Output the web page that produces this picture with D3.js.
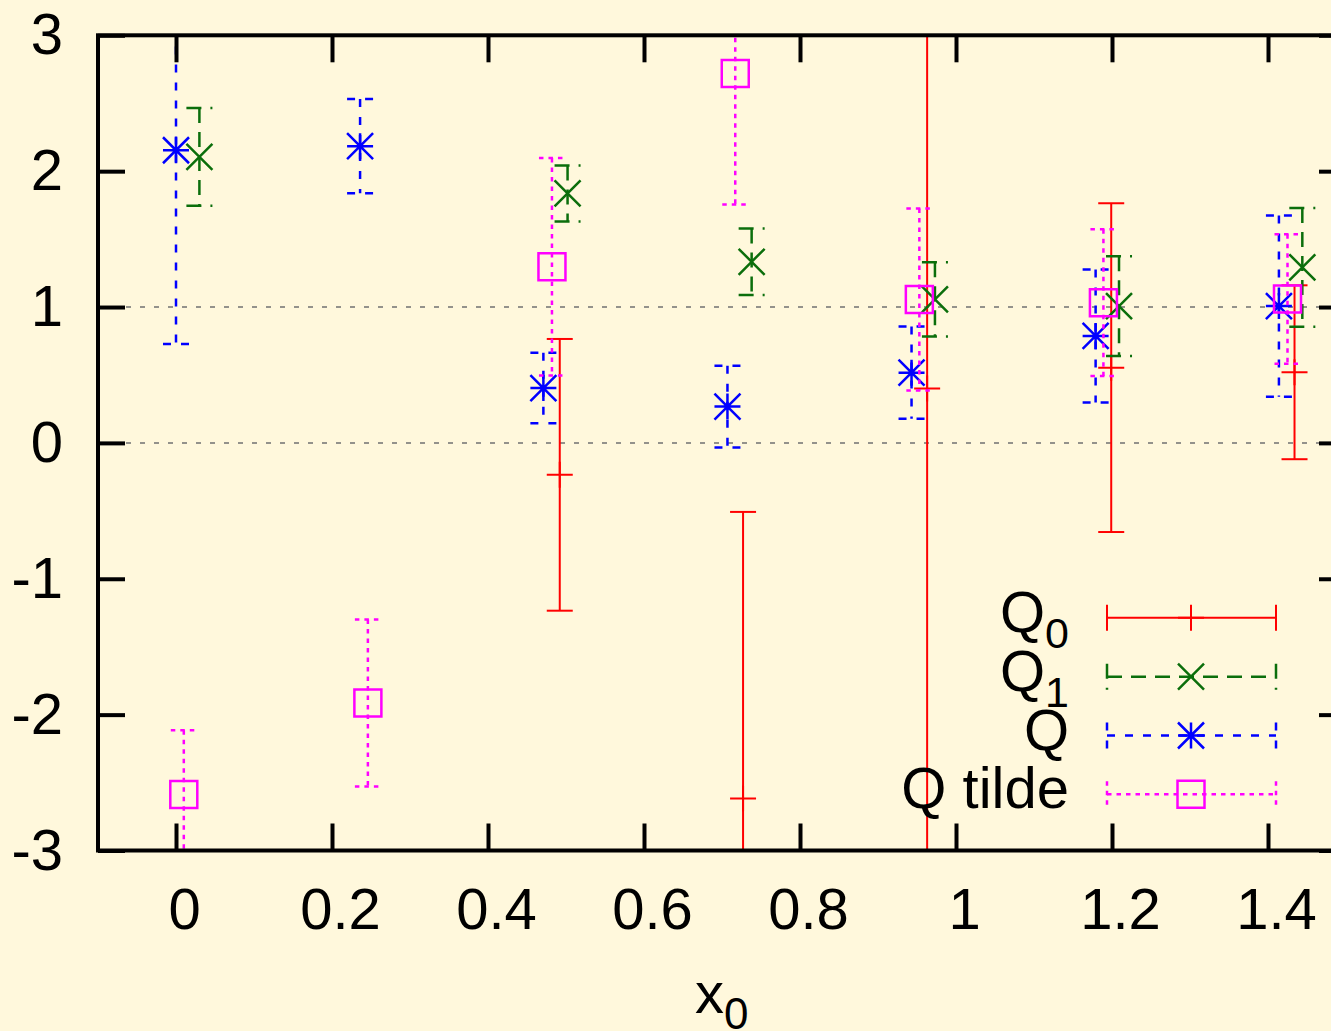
<!DOCTYPE html>
<html>
<head>
<meta charset="utf-8">
<script src="https://cdn.jsdelivr.net/npm/d3@7"></script>
<style>
  html, body { margin: 0; padding: 0; background: #fff8dc; }
  svg { display: block; }
  text { font-family: "Liberation Sans", Arial, Helvetica, sans-serif; fill: #000; }
</style>
</head>
<body>
<script>
// ---------- data ----------
const xTickValues = [0, 0.2, 0.4, 0.6, 0.8, 1.0, 1.2, 1.4];
const xTickLabels = ["0", "0.2", "0.4", "0.6", "0.8", "1", "1.2", "1.4"];
const yTickValues = [-3, -2, -1, 0, 1, 2, 3];
const yTickLabels = ["-3", "-2", "-1", "0", "1", "2", "3"];
const refLines = [0, 1];

// Q0 (red, plus)
const q0X   = [0.492, 0.727, 0.963, 1.199, 1.434];
const q0Y   = [-0.235, -2.618, 0.40, 0.554, 0.52];
const q0Err = [1.00, 2.11, 3.60, 1.21, 0.64];

// Q1 (green, cross)
const q1X   = [0.030, 0.502, 0.738, 0.973, 1.209, 1.444];
const q1Y   = [2.105, 1.836, 1.333, 1.056, 1.007, 1.292];
const q1Err = [0.360, 0.206, 0.245, 0.273, 0.367, 0.437];

// Q (blue, asterisk)
const qX   = [0.000, 0.236, 0.471, 0.707, 0.943, 1.179, 1.414];
const qY   = [2.154, 2.184, 0.404, 0.267, 0.517, 0.787, 1.007];
const qErr = [1.426, 0.347, 0.260, 0.300, 0.340, 0.490, 0.667];

// Q tilde (magenta, square)
const qtX   = [0.010, 0.246, 0.482, 0.717, 0.953, 1.189, 1.425];
const qtY   = [-2.588, -1.914, 1.296, 2.718, 1.056, 1.032, 1.059];
const qtErr = [0.473, 0.615, 0.800, 0.963, 0.670, 0.540, 0.476];

const seriesNames = ["Q0", "Q1", "Q", "Q tilde"];

// ---------- setup ----------
const W = 1331, H = 1031;
const pLeft = 98, pRight = 1346, pTop = 35.3, pBottom = 850.5;

const x = d3.scaleLinear().domain([-0.1, 1.5]).range([pLeft, pRight]);
const y = d3.scaleLinear().domain([-3, 3]).range([pBottom, pTop]);

const svg = d3.select("body").append("svg").attr("width", W).attr("height", H);
svg.append("rect").attr("width", W).attr("height", H).attr("fill", "#fff8dc");

svg.append("defs").append("clipPath").attr("id", "plotclip")
  .append("rect").attr("x", pLeft).attr("y", pTop)
  .attr("width", pRight - pLeft).attr("height", pBottom - pTop);

// reference dashed lines
svg.append("g").attr("clip-path", "url(#plotclip)")
  .selectAll("line").data(refLines).join("line")
  .attr("x1", pLeft).attr("x2", pRight)
  .attr("y1", d => y(d)).attr("y2", d => y(d))
  .attr("stroke", "#707070").attr("stroke-width", 1.5)
  .attr("stroke-dasharray", "5,9");

// ---------- series ----------
const R = 13;
const markerPaths = {
  plus: `M${-R},0H${R}M0,${-R}V${R}`,
  cross: `M${-R},${-R}L${R},${R}M${-R},${R}L${R},${-R}`,
  star: `M${-R},0H${R}M0,${-R}V${R}M${-R},${-R}L${R},${R}M${-R},${R}L${R},${-R}`,
  square: `M${-13.5},${-13.5}H13.5V13.5H${-13.5}Z`
};

const series = [
  { name: seriesNames[0], xs: q0X, ys: q0Y, es: q0Err, color: "#ff0000", dash: null, width: 2, marker: "plus" },
  { name: seriesNames[1], xs: q1X, ys: q1Y, es: q1Err, color: "#0b6e0b", dash: "15,9", width: 2.5, marker: "cross" },
  { name: seriesNames[2], xs: qX, ys: qY, es: qErr, color: "#0000ff", dash: "8,10", width: 2.5, marker: "star" },
  { name: seriesNames[3], xs: qtX, ys: qtY, es: qtErr, color: "#ff00ff", dash: "4.5,5", width: 2.5, marker: "square" }
];

const plot = svg.append("g").attr("clip-path", "url(#plotclip)");

series.forEach(s => {
  const pts = s.xs.map((xv, i) => ({ x: xv, y: s.ys[i], e: s.es[i] }));
  const g = plot.append("g");
  const pg = g.selectAll("g.pt").data(pts).join("g").attr("class", "pt");
  const styleLine = sel => sel.attr("stroke", s.color).attr("stroke-width", s.width)
    .attr("stroke-dasharray", s.dash).attr("fill", "none");
  pg.append("line")
    .attr("x1", d => x(d.x)).attr("x2", d => x(d.x))
    .attr("y1", d => y(d.y + d.e)).attr("y2", d => y(d.y - d.e))
    .call(styleLine);
  pg.append("line")
    .attr("x1", d => x(d.x) - 13).attr("x2", d => x(d.x) + 13)
    .attr("y1", d => y(d.y + d.e)).attr("y2", d => y(d.y + d.e))
    .call(styleLine);
  pg.append("line")
    .attr("x1", d => x(d.x) - 13).attr("x2", d => x(d.x) + 13)
    .attr("y1", d => y(d.y - d.e)).attr("y2", d => y(d.y - d.e))
    .call(styleLine);
  pg.append("path")
    .attr("transform", d => `translate(${x(d.x)},${y(d.y)})`)
    .attr("d", markerPaths[s.marker])
    .attr("stroke", s.color).attr("stroke-width", s.width).attr("fill", "none");
});

// ---------- axes ----------
function styleAxis(g, keepText) {
  g.select(".domain").remove();
  g.selectAll(".tick line").attr("stroke", "#000").attr("stroke-width", 4);
  if (!keepText) g.selectAll(".tick text").remove();
  else g.selectAll(".tick text").attr("font-size", 58)
    .attr("font-family", '"Liberation Sans", Arial, sans-serif').attr("fill", "#000");
}

svg.append("g").attr("transform", `translate(0,${pBottom})`)
  .call(d3.axisBottom(x).tickValues(xTickValues).tickSize(-27).tickPadding(37)
    .tickFormat((d, i) => xTickLabels[i]))
  .call(g => styleAxis(g, true))
  .call(g => g.selectAll(".tick text").attr("dx", 8));

svg.append("g").attr("transform", `translate(0,${pTop})`)
  .call(d3.axisTop(x).tickValues(xTickValues).tickSize(-27))
  .call(g => styleAxis(g, false));

svg.append("g").attr("transform", `translate(${pLeft},0)`)
  .call(d3.axisLeft(y).tickValues(yTickValues).tickSize(-27).tickPadding(35)
    .tickFormat((d, i) => yTickLabels[i]))
  .call(g => styleAxis(g, true));

svg.append("g").attr("transform", `translate(${pRight},0)`)
  .call(d3.axisRight(y).tickValues(yTickValues).tickSize(-27))
  .call(g => styleAxis(g, false));

// border
svg.append("rect").attr("x", pLeft).attr("y", pTop)
  .attr("width", pRight - pLeft).attr("height", pBottom - pTop)
  .attr("fill", "none").attr("stroke", "#000").attr("stroke-width", 4);

// x axis title
const xt = svg.append("text").attr("x", 695).attr("y", 1013).attr("font-size", 58);
xt.append("tspan").text("x");
xt.append("tspan").attr("font-size", 44).attr("dy", 16).text("0");

// ---------- legend ----------
const legendRowsY = [617.7, 676.7, 735.5, 794.3];
const lx1 = 1107, lx2 = 1276, lxm = 1191;
const legend = svg.append("g");
series.forEach((s, i) => {
  const ly = legendRowsY[i];
  const t = legend.append("text").attr("x", 1069).attr("y", ly + 14)
    .attr("font-size", 58).attr("text-anchor", "end");
  if (s.name === "Q0" || s.name === "Q1") {
    t.append("tspan").text("Q");
    t.append("tspan").attr("font-size", 43).attr("dy", 16).text(s.name.slice(1));
  } else {
    t.text(s.name);
  }
  const st = sel => sel.attr("stroke", s.color).attr("stroke-width", s.width)
    .attr("stroke-dasharray", s.dash).attr("fill", "none");
  legend.append("line").attr("x1", lx1).attr("x2", lx2).attr("y1", ly).attr("y2", ly).call(st);
  legend.append("line").attr("x1", lx1).attr("x2", lx1).attr("y1", ly - 13).attr("y2", ly + 13).call(st);
  legend.append("line").attr("x1", lx2).attr("x2", lx2).attr("y1", ly - 13).attr("y2", ly + 13).call(st);
  legend.append("path").attr("transform", `translate(${lxm},${ly})`)
    .attr("d", markerPaths[s.marker])
    .attr("stroke", s.color).attr("stroke-width", s.width).attr("fill", "none");
});
</script>
</body>
</html>
